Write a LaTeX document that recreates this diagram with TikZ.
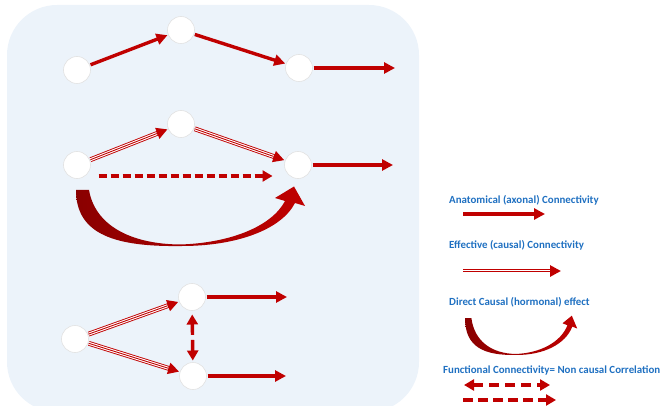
\documentclass[tikz,border=0pt]{standalone}
\usepackage{fontspec}
\setmainfont{Carlito}
\usetikzlibrary{arrows.meta}
\definecolor{myred}{HTML}{C00000}
\definecolor{swdark}{HTML}{8A0000}
\definecolor{panelblue}{HTML}{ECF3FA}
\definecolor{txtblue}{HTML}{1F70C1}
\definecolor{ring}{HTML}{E2E2E2}
\tikzset{
  swoosh/.pic={
    \shade[left color=swdark, right color=myred]
      (0,0) .. controls (0,45) and (40,57) .. (106,56)
      .. controls (160,56) and (205,40) .. (219,13)
      -- (229,16) -- (218,-3.5) -- (199,8) -- (209,11)
      .. controls (196,36) and (155,53) .. (104,54.5)
      .. controls (54,54) and (19,35) .. (13,0) -- cycle;
  }
}
\begin{document}
\begin{tikzpicture}[x=1pt,y=-1pt,
  nd/.style={circle, fill=white, draw=ring, line width=0.6pt, minimum size=27pt, inner sep=0pt, outer sep=1pt},
  anat/.style={draw=myred, line width=3.4pt, -{Triangle[length=11pt,width=11pt]}},
  eff/.style={draw=myred, line width=4.8pt, -{Triangle[length=11pt,width=11pt]},
    postaction={draw=white, line width=3pt, -, shorten >=11.5pt},
    postaction={draw=myred, line width=0.9pt, -, shorten >=11.5pt}},
  dsh/.style={draw=myred, line width=3.4pt, dash pattern=on 8pt off 4pt, -{Triangle[length=10pt,width=11pt]}},
  dshtwo/.style={draw=myred, line width=3.4pt, dash pattern=on 10pt off 6pt, {Triangle[length=10pt,width=11pt]}-{Triangle[length=10pt,width=11pt]}},
  lg/.style={font=\bfseries\fontsize{10.9}{12}\selectfont, text=txtblue, inner sep=0pt, anchor=west}
]
\useasboundingbox (0,0) rectangle (661,406);
\fill[panelblue, rounded corners=50pt] (7,5) rectangle (419,412);

% group 1
\node[nd] (A) at (77,70) {};
\node[nd] (B) at (181,30) {};
\node[nd] (C) at (299,68) {};
\coordinate (Co) at (395,68);
\draw[anat] (A) -- (B);
\draw[anat] (B) -- (C);
\draw[anat] (C) -- (Co);

% group 2
\node[nd] (D) at (77,165) {};
\node[nd] (E) at (181,124) {};
\node[nd] (F) at (298,165) {};
\coordinate (Fo) at (393,165);
\draw[eff] (D) -- (E);
\draw[eff] (E) -- (F);
\draw[anat] (F) -- (Fo);
\draw[dsh] ([xshift=7pt,yshift=-11pt]D.east) -- ([xshift=-11pt,yshift=-11pt]F.west);
\pic at (76,190) {swoosh};

% group 3
\node[nd] (G) at (75,339) {};
\node[nd] (H) at (192,297) {};
\node[nd] (I) at (193,376) {};
\coordinate (Ho) at (287,297);
\coordinate (Io) at (286,376);
\draw[eff] (G) -- (H);
\draw[eff] (G) -- (I);
\draw[anat] (H) -- (Ho);
\draw[anat] (I) -- (Io);
\draw[dshtwo, dash pattern=on 11pt off 5pt, shorten <=3pt, shorten >=1pt] (H) -- (I);

% legend
\node[lg] (t1) at (449,200) {Anatomical (axonal) Connectivity};
\coordinate (l1a) at (463,214);
\coordinate (l1b) at (545,214);
\draw[anat] (l1a) -- (l1b);

\node[lg] (t2) at (449,245) {Effective (causal) Connectivity};
\coordinate (l2a) at (463,271);
\coordinate (l2b) at (561,271);
\draw[eff] (l2a) -- (l2b);

\node[lg] (t3) at (449,302) {Direct Causal (hormonal) effect};
\pic[xscale=0.49, yscale=0.66] at (465,318) {swoosh};

\node[lg] (t4) at (443,371) {Functional Connectivity= Non causal Correlation};
\coordinate (l4a) at (464,385);
\coordinate (l4b) at (550,385);
\draw[dshtwo] (l4a) -- (l4b);
\coordinate (l5a) at (463,400);
\coordinate (l5b) at (556,400);
\draw[dsh, dash pattern=on 10pt off 5pt] (l5a) -- (l5b);
\end{tikzpicture}
\end{document}
